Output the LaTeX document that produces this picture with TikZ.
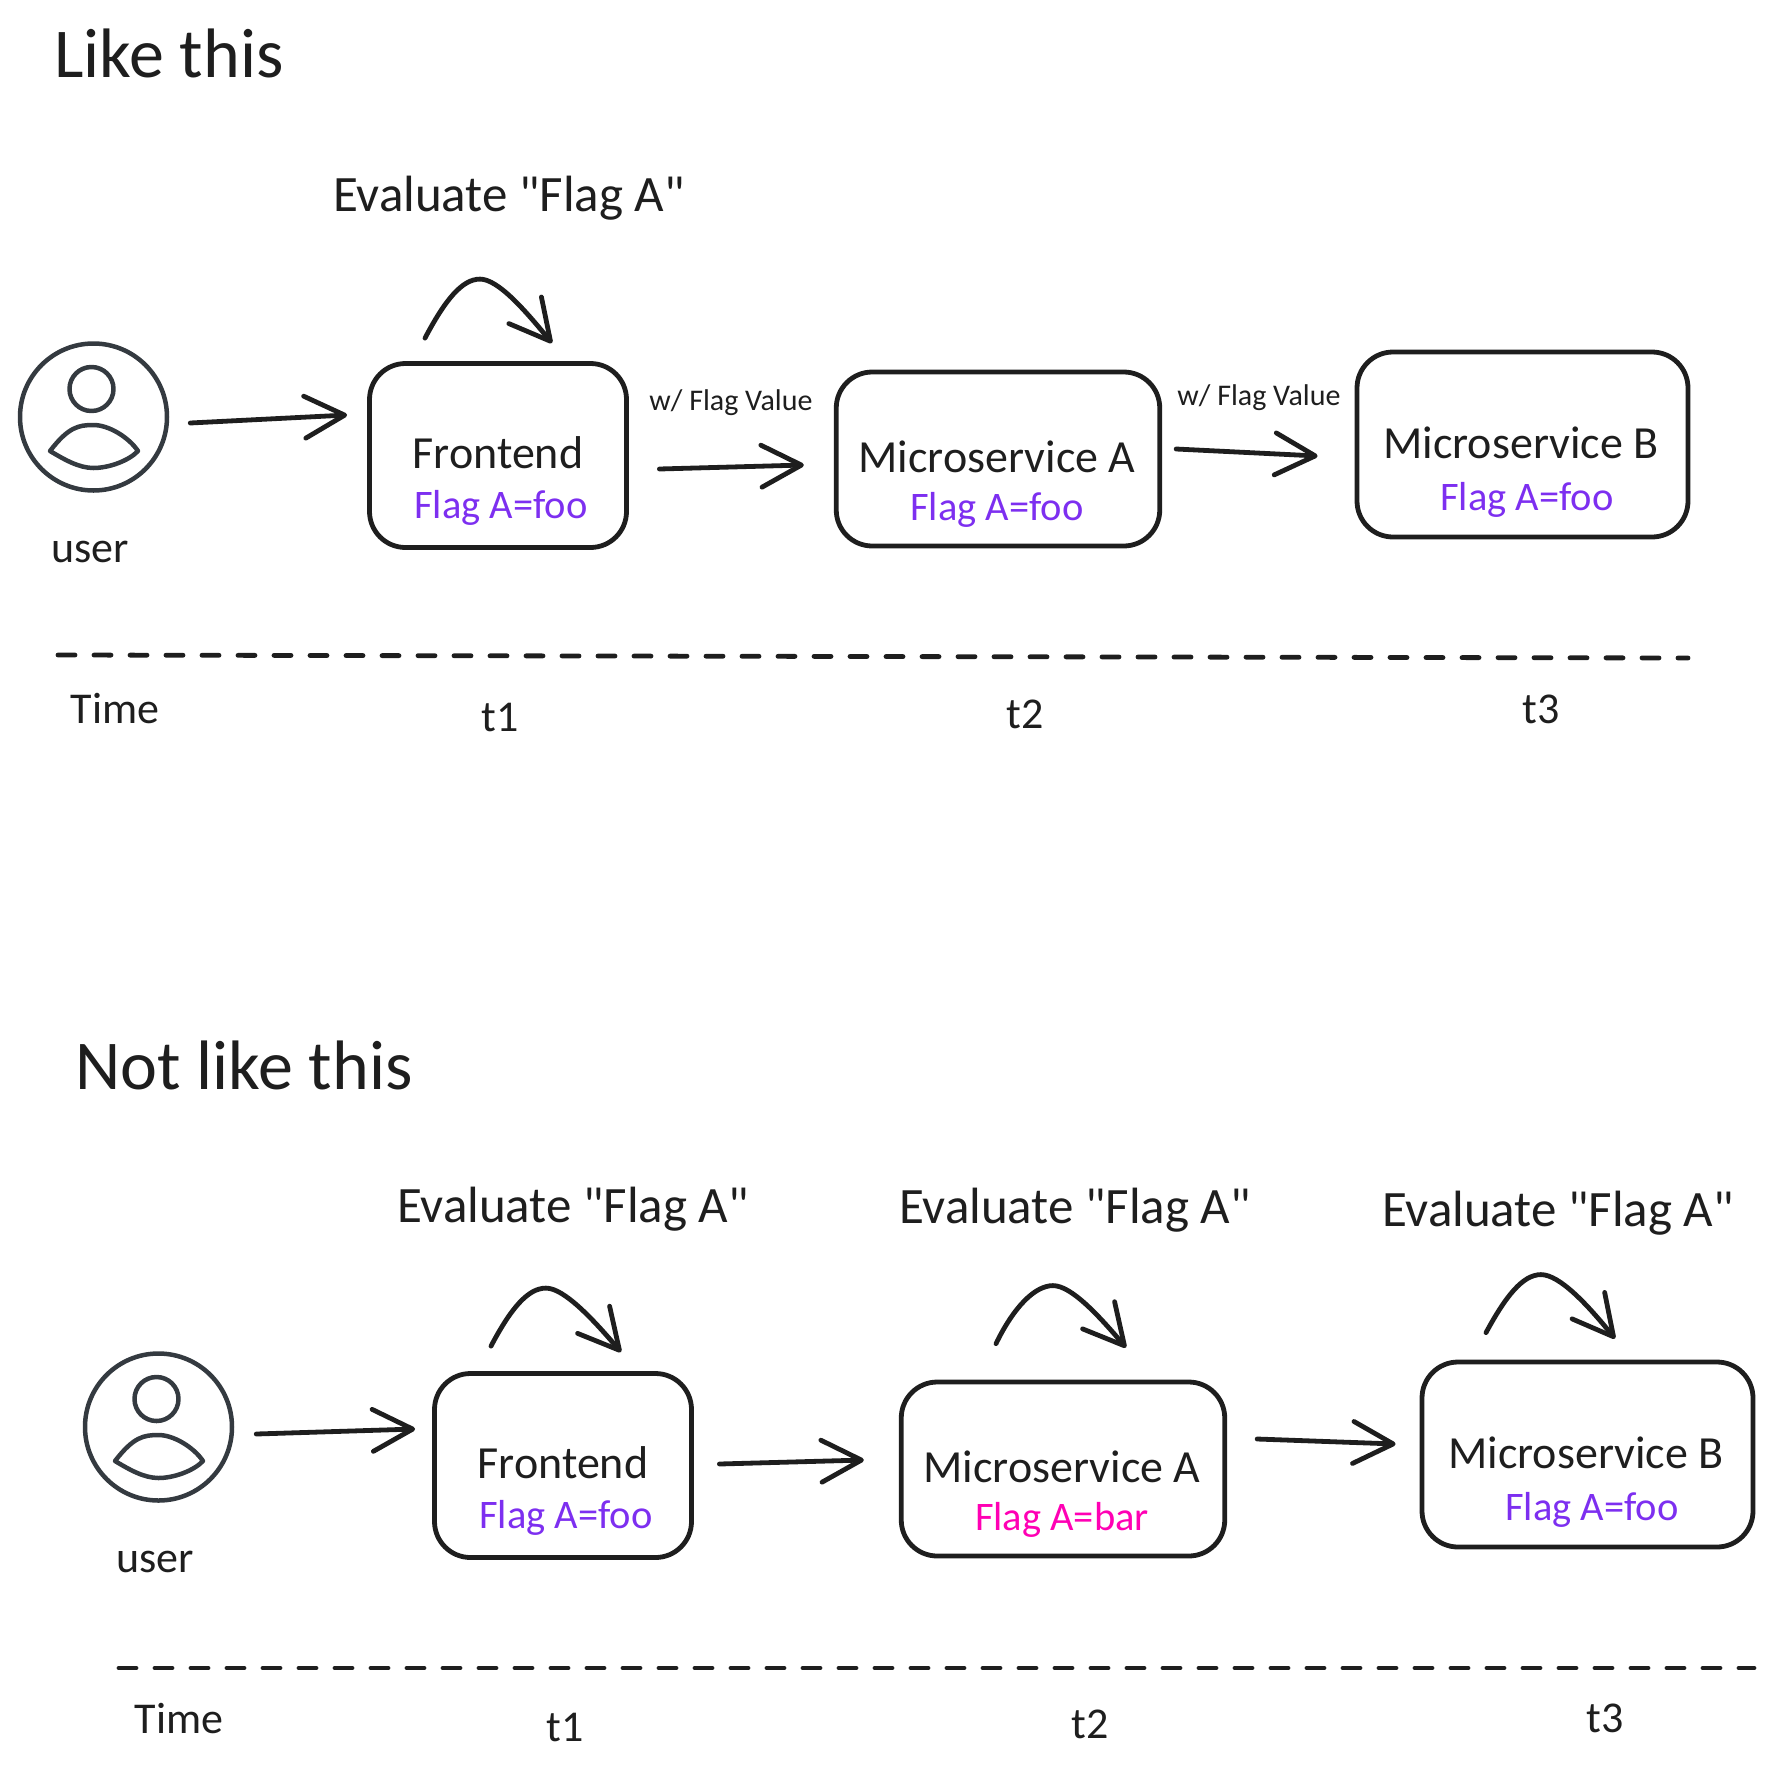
\documentclass[tikz,border=0pt]{standalone}
\usepackage{fontspec}
\setmainfont{Carlito}[Ligatures=TeXOff]
\usetikzlibrary{arrows.meta}
\definecolor{sketch}{HTML}{1E1E1E}
\definecolor{icon}{HTML}{343A40}
\definecolor{flagfoo}{HTML}{7D2FF0}
\definecolor{flagbar}{HTML}{FF00B4}
\begin{document}
\begin{tikzpicture}[
            x = 1pt, y = -1pt,
            > = {Straight Barb[length=40pt,width=42pt,round]}, % arrow head style
            line cap = round,
            line join = round,
            line width = 4.8pt, % line style
            color = sketch
        ]

        \tikzstyle{box}=[
            draw = sketch,
            rectangle,
            rounded corners = 36pt,
            inner sep = 0pt
        ]
        \tikzstyle{usercircle}=[
            draw = icon,
            circle,
            inner sep = 0pt,
            line width = 4.5pt,
            minimum size = 147pt
        ]
        \tikzstyle{userhead}=[
            draw = icon,
            circle,
            inner sep = 0pt,
            line width = 4.5pt,
            minimum size = 44pt
        ]
        \tikzstyle{userbody}=[draw = icon, line width = 4.5pt]
        \tikzstyle{timeline}=[dash pattern = on 17pt off 19pt, line width = 4.8pt]
        \tikzstyle{service}=[inner sep = 0pt, font = \fontsize{46}{50}\selectfont]
        \tikzstyle{flag}=[inner sep = 0pt, text = flagfoo, font = \fontsize{40.5}{46}\selectfont]
        \tikzstyle{badflag}=[flag, text = flagbar]
        \tikzstyle{evaluate}=[inner sep = 0pt, font = \fontsize{51}{56}\selectfont]
        \tikzstyle{heading}=[inner sep = 0pt, font = \fontsize{70}{78}\selectfont]
        \tikzstyle{timelabel}=[inner sep = 0pt, font = \fontsize{44}{50}\selectfont]
        \tikzstyle{flagvalue}=[inner sep = 0pt, font = \fontsize{30}{36}\selectfont]

        \useasboundingbox (0,0) rectangle (1772,1775);

        % like this
        \node[heading] (Like) at (169,53) {Like this};

        \node[usercircle] (U) at (93.5,417) {};
        \node[userhead] (UH) [above of = U, node distance = 28pt, xshift = -2pt] {};
        \node[timelabel] (UL) [below of = U, node distance = 135pt, xshift = -3.5pt] {user};
        \draw[userbody] ([shift={(-43.5,34)}]U.center)
            .. controls ([shift={(-25,10)}]U.center) and ([shift={(-15,8)}]U.center) .. ([shift={(0,8)}]U.center)
            .. controls ([shift={(15,8)}]U.center) and ([shift={(35,20)}]U.center) .. ([shift={(44.5,34)}]U.center)
            .. controls ([shift={(35,44)}]U.center) and ([shift={(15,51)}]U.center) .. ([shift={(0,51)}]U.center)
            .. controls ([shift={(-15,51)}]U.center) and ([shift={(-30,42)}]U.center) .. ([shift={(-43.5,34)}]U.center) -- cycle;

        \node[box, minimum width = 257pt, minimum height = 184pt] (F) [right of = U, node distance = 404.5pt, yshift = -38.5pt] {};
        \node[box, minimum width = 323.5pt, minimum height = 174pt] (A) [right of = F, node distance = 500pt, yshift = -3.5pt] {};
        \node[box, minimum width = 331pt, minimum height = 185pt] (B) [right of = A, node distance = 524.5pt, yshift = 14.5pt] {};

        \node[service] (FT) [above of = F, node distance = 2.5pt] {Frontend};
        \node[flag] (FV) [below of = FT, node distance = 55pt, xshift = 3pt] {Flag A=foo};
        \node[service] (AT) [above of = A, node distance = 2pt, xshift = -1pt] {Microservice A};
        \node[flag] (AV) [below of = AT, node distance = 53pt] {Flag A=foo};
        \node[service] (BT) [above of = B, node distance = 1.5pt, xshift = -1.5pt] {Microservice B};
        \node[flag] (BV) [below of = BT, node distance = 57pt, xshift = 6pt] {Flag A=foo};

        \node[evaluate] (FE) [above of = F, node distance = 257pt, xshift = 11pt] {Evaluate "Flag A"};
        \node[flagvalue] (FW) [right of = F, node distance = 233pt, yshift = 52.5pt] {w/ Flag Value};
        \node[flagvalue] (AW) [right of = A, node distance = 261pt, yshift = 61pt] {w/ Flag Value};

        \draw[->] ([shift={(-73,-23)}]F.north)
            .. controls ([shift={(-53,-61)}]F.north) and ([shift={(-36,-82)}]F.north) .. ([shift={(-18,-82)}]F.north)
            .. controls ([shift={(0,-82)}]F.north) and ([shift={(27,-51)}]F.north) .. ([shift={(54,-18)}]F.north);
        \path[->] ([shift={(21,6)}]U.east) edge node {} ([shift={(-20,-40.5)}]F.west);
        \path[->] ([shift={(30.5,13.5)}]F.east) edge node {} ([shift={(-30,6)}]A.west);
        \path[->] ([shift={(14,-10)}]A.east) edge node {} ([shift={(-37,11.5)}]B.west);

        % time axis
        \coordinate (TL) at (58,655);
        \coordinate (TR) at (1688,658);
        \draw[timeline] (TL) -- (TR);
        \node[timelabel] (TT) [below of = U, node distance = 292pt, xshift = 21.5pt] {Time};
        \node[timelabel] (T1) [below of = F, node distance = 261.5pt, xshift = 2pt] {t1};
        \node[timelabel] (T2) [below of = A, node distance = 255pt, xshift = 27pt] {t2};
        \node[timelabel] (T3) [below of = B, node distance = 264.5pt, xshift = 18.5pt] {t3};

        % not like this
        \node[heading] (Not) at (244,1065) {Not like this};

        \node[usercircle] (U2) [below of = U, node distance = 1010pt, xshift = 65pt] {};
        \node[userhead] (UH2) [above of = U2, node distance = 28pt, xshift = -2pt] {};
        \node[timelabel] (UL2) [below of = U2, node distance = 135pt, xshift = -3.5pt] {user};
        \draw[userbody] ([shift={(-43.5,34)}]U2.center)
            .. controls ([shift={(-25,10)}]U2.center) and ([shift={(-15,8)}]U2.center) .. ([shift={(0,8)}]U2.center)
            .. controls ([shift={(15,8)}]U2.center) and ([shift={(35,20)}]U2.center) .. ([shift={(44.5,34)}]U2.center)
            .. controls ([shift={(35,44)}]U2.center) and ([shift={(15,51)}]U2.center) .. ([shift={(0,51)}]U2.center)
            .. controls ([shift={(-15,51)}]U2.center) and ([shift={(-30,42)}]U2.center) .. ([shift={(-43.5,34)}]U2.center) -- cycle;

        \node[box, minimum width = 257pt, minimum height = 184pt] (F2) [right of = U2, node distance = 404.5pt, yshift = -38.5pt] {};
        \node[box, minimum width = 323.5pt, minimum height = 174pt] (A2) [right of = F2, node distance = 500pt, yshift = -3.5pt] {};
        \node[box, minimum width = 331pt, minimum height = 185pt] (B2) [right of = A2, node distance = 524.5pt, yshift = 14.5pt] {};

        \node[service] (FT2) [above of = F2, node distance = 2.5pt] {Frontend};
        \node[flag] (FV2) [below of = FT2, node distance = 55pt, xshift = 3pt] {Flag A=foo};
        \node[service] (AT2) [above of = A2, node distance = 2pt, xshift = -1pt] {Microservice A};
        \node[badflag] (AV2) [below of = AT2, node distance = 53pt] {Flag A=bar};
        \node[service] (BT2) [above of = B2, node distance = 1.5pt, xshift = -1.5pt] {Microservice B};
        \node[flag] (BV2) [below of = BT2, node distance = 57pt, xshift = 6pt] {Flag A=foo};

        \node[evaluate] (FE2) [above of = F2, node distance = 256.5pt, xshift = 10pt] {Evaluate "Flag A"};
        \node[evaluate] (AE2) [above of = A2, node distance = 259pt, xshift = 12pt] {Evaluate "Flag A"};
        \node[evaluate] (BE2) [above of = B2, node distance = 241.5pt, xshift = -29.5pt] {Evaluate "Flag A"};

        \draw[->] ([shift={(-72,-25)}]F2.north)
            .. controls ([shift={(-52,-63)}]F2.north) and ([shift={(-35,-83)}]F2.north) .. ([shift={(-17,-83)}]F2.north)
            .. controls ([shift={(1,-83)}]F2.north) and ([shift={(30,-52)}]F2.north) .. ([shift={(58,-19)}]F2.north);
        \draw[->] ([shift={(-67,-36)}]A2.north)
            .. controls ([shift={(-49,-73)}]A2.north) and ([shift={(-28,-94)}]A2.north) .. ([shift={(-10,-94)}]A2.north)
            .. controls ([shift={(8,-94)}]A2.north) and ([shift={(35,-65)}]A2.north) .. ([shift={(63,-32)}]A2.north);
        \draw[->] ([shift={(-101.5,-27)}]B2.north)
            .. controls ([shift={(-82,-63)}]B2.north) and ([shift={(-65,-85)}]B2.north) .. ([shift={(-46.5,-85)}]B2.north)
            .. controls ([shift={(-28,-85)}]B2.north) and ([shift={(0,-55)}]B2.north) .. ([shift={(27.5,-21)}]B2.north);
        \path[->] ([shift={(22,7)}]U2.east) edge node {} ([shift={(-17,-36.5)}]F2.west);
        \path[->] ([shift={(25.5,-1.5)}]F2.east) edge node {} ([shift={(-35,-9)}]A2.west);
        \path[->] ([shift={(30,-30)}]A2.east) edge node {} ([shift={(-24,-10.5)}]B2.west);

        % time axis
        \coordinate (TL2) at (119,1668);
        \coordinate (TR2) at (1754,1668);
        \draw[timeline] (TL2) -- (TR2);
        \node[timelabel] (TT2) [below of = U2, node distance = 291pt, xshift = 20.5pt] {Time};
        \node[timelabel] (T12) [below of = F2, node distance = 261.5pt, xshift = 2pt] {t1};
        \node[timelabel] (T22) [below of = A2, node distance = 255pt, xshift = 27pt] {t2};
        \node[timelabel] (T32) [below of = B2, node distance = 263.5pt, xshift = 17.5pt] {t3};

\end{tikzpicture}
\end{document}
